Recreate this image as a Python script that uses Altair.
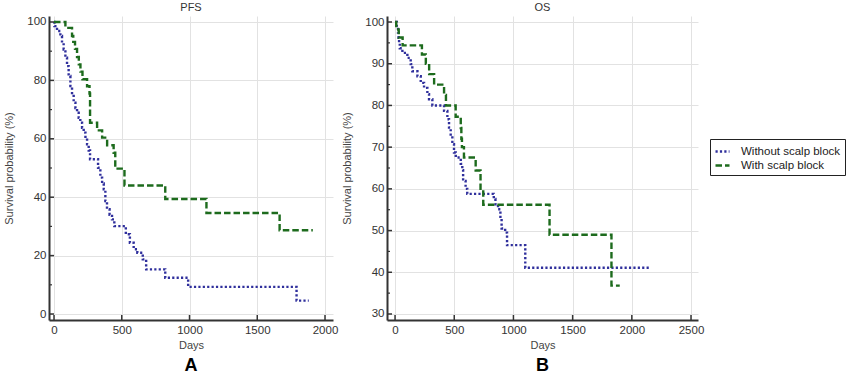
import altair as alt
import pandas as pd

groups = ["Without scalp block", "With scalp block"]
colors = ["#2f2f9c", "#1d6b1d"]
dashes = [[2.2, 2.2], [6.5, 3]]

# PFS - without scalp block (days, survival %)
pfs_wo_days = [0, 3, 22, 47, 59, 71, 84, 96, 108, 121, 133, 145, 158, 170, 182, 194, 207, 219,
               232, 244, 256, 266, 325, 342, 355, 367, 379, 391, 410, 428, 445, 530, 560, 588,
               615, 655, 680, 821, 990, 1790, 1880]
pfs_wo_surv = [100, 98.6, 96.9, 95.2, 92.9, 90.6, 87.8, 84.9, 81.5, 78.1, 75.2, 72.4, 70.5, 68.9,
               67.2, 65.5, 63.8, 62.1, 60.1, 58.1, 56.0, 53.0, 50.1, 46.7, 44.7, 42.7, 38.7, 35.9,
               34.0, 32.4, 30.1, 27.3, 24.4, 22.2, 21.0, 18.7, 15.3, 12.4, 9.3, 4.6, 4.6]
# PFS - with scalp block
pfs_w_days = [0, 84, 133, 142, 155, 170, 183, 195, 210, 244, 262, 266, 318, 355, 392, 440, 452,
              520, 821, 1125, 1665, 1910]
pfs_w_surv = [100, 98.0, 95.2, 93.2, 90.8, 88.0, 85.5, 83.0, 80.4, 78.0, 75.5, 65.5, 62.9, 60.4,
              57.8, 55.2, 49.8, 44.0, 39.4, 34.6, 28.7, 28.7]
# OS - without scalp block
os_wo_days = [0, 15, 25, 30, 34, 40, 62, 104, 132, 146, 189, 217, 245, 273, 287, 315, 414, 442,
              456, 470, 484, 498, 513, 555, 568, 575, 596, 610, 834, 848, 870, 890, 900, 930, 946,
              1100, 2150]
os_wo_surv = [100, 98.8, 97.5, 96.2, 95.0, 93.7, 92.6, 91.4, 89.9, 88.2, 87.0, 85.4, 84.2, 82.7,
              81.5, 80.0, 78.7, 76.7, 74.7, 72.7, 70.7, 68.7, 67.5, 66.0, 64.5, 61.9, 60.0, 58.8,
              57.6, 56.3, 55.1, 53.0, 50.5, 49.5, 46.5, 41.1, 41.1]
# OS - with scalp block
os_w_days = [0, 10, 31, 64, 227, 260, 288, 330, 414, 430, 512, 555, 560, 565, 582, 681, 722, 745,
             1305, 1828, 1898]
os_w_surv = [100, 98.2, 96.3, 94.4, 92.2, 90.0, 87.5, 85.0, 82.5, 80.0, 77.3, 74.6, 72.0, 70.0,
             67.5, 64.4, 60.0, 56.2, 49.0, 36.8, 36.8]


def make_df(d1, s1, d2, s2):
    a = pd.DataFrame({"day": d1, "surv": s1, "group": groups[0]})
    b = pd.DataFrame({"day": d2, "surv": s2, "group": groups[1]})
    return pd.concat([a, b], ignore_index=True)


leg = alt.Legend(title=None, orient="none", legendX=661, legendY=123, strokeColor="#222",
                 fillColor="white", padding=4, labelFontSize=11.5, labelColor="#222",
                 symbolType="stroke", symbolSize=196, symbolStrokeWidth=2.5, labelOffset=10,
                 rowPadding=0)


def panel(df, xdom, ydom, xticks, yticks, yminor, title, letter, w, h):
    xs = alt.Scale(domain=xdom, nice=False, zero=False)
    ys = alt.Scale(domain=ydom, nice=False, zero=False)
    xa = alt.Axis(values=xticks, ticks=False, labelPadding=4, titlePadding=4, labelFlush=False,
                  format="d", title="Days")
    ya = alt.Axis(values=yticks, ticks=False, labelPadding=3, titlePadding=12, format="d",
                  title="Survival probability (%)")
    lines = alt.Chart(df).mark_line(interpolate="step-after", strokeWidth=2.4).encode(
        x=alt.X("day:Q", scale=xs, axis=xa),
        y=alt.Y("surv:Q", scale=ys, axis=ya),
        color=alt.Color("group:N", scale=alt.Scale(domain=groups, range=colors), legend=leg),
        strokeDash=alt.StrokeDash("group:N", scale=alt.Scale(domain=groups, range=dashes),
                                  legend=leg),
    )
    xt = alt.Chart(pd.DataFrame({"day": xticks})).mark_rule(color="#333", strokeWidth=1.5).encode(
        x=alt.X("day:Q", scale=xs, axis=xa), y=alt.value(h), y2=alt.value(h - 5))
    yt = alt.Chart(pd.DataFrame({"surv": yticks})).mark_rule(color="#333", strokeWidth=1.5).encode(
        y=alt.Y("surv:Q", scale=ys, axis=ya), x=alt.value(0), x2=alt.value(5))
    ytm = alt.Chart(pd.DataFrame({"surv": yminor})).mark_rule(color="#333", strokeWidth=1.2).encode(
        y=alt.Y("surv:Q", scale=ys, axis=ya), x=alt.value(0), x2=alt.value(3))
    txt = alt.Chart(pd.DataFrame({"label": [letter]})).mark_text(
        fontSize=18, fontWeight="bold", color="black").encode(
        x=alt.value(w / 2), y=alt.value(h + 46), text="label:N")
    return alt.layer(lines, xt, yt, ytm, txt).properties(
        width=w, height=h,
        title=alt.TitleParams(title, fontSize=11, fontWeight="normal", color="#333", offset=3))


p1 = panel(make_df(pfs_wo_days, pfs_wo_surv, pfs_w_days, pfs_w_surv),
           [-37, 2059], [-2.05, 102.05], [0, 500, 1000, 1500, 2000],
           [0, 20, 40, 60, 80, 100], [10, 30, 50, 70, 90], "PFS", "A", 284, 304)
p2 = panel(make_df(os_wo_days, os_wo_surv, os_w_days, os_w_surv),
           [-68, 2559], [28.56, 101.44], [0, 500, 1000, 1500, 2000, 2500],
           [30, 40, 50, 60, 70, 80, 90, 100], [35, 45, 55, 65, 75, 85, 95], "OS", "B", 311, 304)

chart = alt.hconcat(p1, p2, spacing=3).resolve_scale(
    color="shared", strokeDash="shared").properties(
    padding={"left": 3, "top": 1, "right": 0, "bottom": 0}).configure(
    font="Liberation Sans").configure_view(stroke=None).configure_axis(
    gridColor="#e2e2e2", gridWidth=1, domainColor="#333", domainWidth=2,
    labelFontSize=11.5, labelColor="#333", titleFontSize=11, titleColor="#444",
    titleFontWeight="normal")

chart.save("out.html", embed_options={"renderer": "svg", "actions": False})
